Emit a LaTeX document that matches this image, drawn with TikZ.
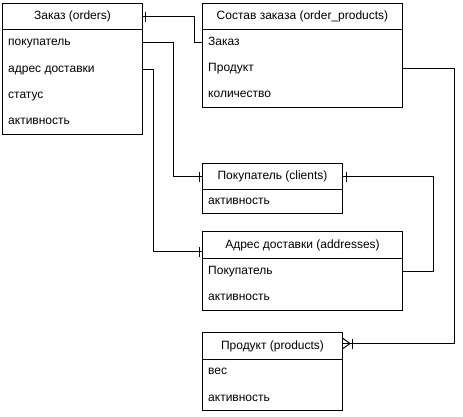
\documentclass[tikz,border=0pt]{standalone}
\usepackage{fontspec}
\setmainfont{Liberation Sans}
\usetikzlibrary{decorations.markings}
\begin{document}
\begin{tikzpicture}[x=1pt,y=-1pt,
  ent/.style={draw, line width=1pt, anchor=north west, inner sep=0pt, font=\fontsize{12pt}{14pt}\selectfont},
  fld/.style={anchor=west, inner sep=0pt, text height=9pt, text depth=2.5pt, font=\fontsize{12pt}{14pt}\selectfont},
  rel/.style={draw, line width=1pt},
  onestart/.style={postaction={decorate}, decoration={markings, mark=at position #1 with {\draw[line width=1pt] (0,-5pt)--(0,5pt);}}},
  oneend/.style={postaction={decorate}, decoration={markings, mark=at position -#1 with {\draw[line width=1pt] (0,-5pt)--(0,5pt);}}},
  manyend/.style={postaction={decorate}, decoration={markings, mark=at position -9pt with {\draw[line width=1pt] (0,-5pt)--(0,5pt); \draw[line width=1pt] (9pt,-5pt)--(2pt,0pt)--(9pt,5pt);}}}
]
\useasboundingbox (0,0) rectangle (463,416);

% orders
\node[ent, minimum width=140pt, minimum height=26pt] (oh) at (2,3) {Заказ (orders)};
\node[ent, minimum width=140pt, minimum height=105pt] (ob) at (2,29) {};
\node[fld] (o1) at (8,42) {покупатель};
\node[fld] (o2) at (8,69) {адрес доставки};
\node[fld] (o3) at (8,95) {статус};
\node[fld] (o4) at (8,121) {активность};

% order_products
\node[ent, minimum width=200pt, minimum height=26pt] (ph) at (202,3) {Состав заказа (order\_products)};
\node[ent, minimum width=200pt, minimum height=78pt] (pb) at (202,29) {};
\node[fld] (p1) at (208,42) {Заказ};
\node[fld] (p2) at (208,68) {Продукт};
\node[fld] (p3) at (208,94) {количество};

% clients
\node[ent, minimum width=140pt, minimum height=26pt] (ch) at (202,163) {Покупатель (clients)};
\node[ent, minimum width=140pt, minimum height=24pt] (cb) at (202,189) {};
\node[fld] (c1) at (208,201) {активность};

% addresses
\node[ent, minimum width=200pt, minimum height=27pt] (ah) at (202,231) {Адрес доставки (addresses)};
\node[ent, minimum width=200pt, minimum height=52pt] (ab) at (202,258) {};
\node[fld] (a1) at (208,271) {Покупатель};
\node[fld] (a2) at (208,297) {активность};

% products
\node[ent, minimum width=140pt, minimum height=27pt] (rh) at (202,332) {Продукт (products)};
\node[ent, minimum width=140pt, minimum height=51pt] (rb) at (202,359) {};
\node[fld] (r1) at (208,371) {вес};
\node[fld] (r2) at (208,398) {активность};

% relations
\draw[rel, onestart=2pt] (oh.east) -- ++(51,0) |- (pb.west |- p1.west);
\draw[rel, oneend=3pt] (ob.east |- o1.west) -- ++(30,0) |- (ch.west);
\draw[rel, oneend=3pt] (ob.east |- o2.west) -- ++(10,0) |- ([yshift=-6.5pt]ah.west);
\draw[rel, onestart=3.5pt] (ch.east) -- ++(90,0) |- (ab.east |- a1.west);
\draw[rel, manyend] (pb.east |- p2.west) -- ++(51,0) |- ([yshift=2.5pt]rh.east);
\end{tikzpicture}
\end{document}
